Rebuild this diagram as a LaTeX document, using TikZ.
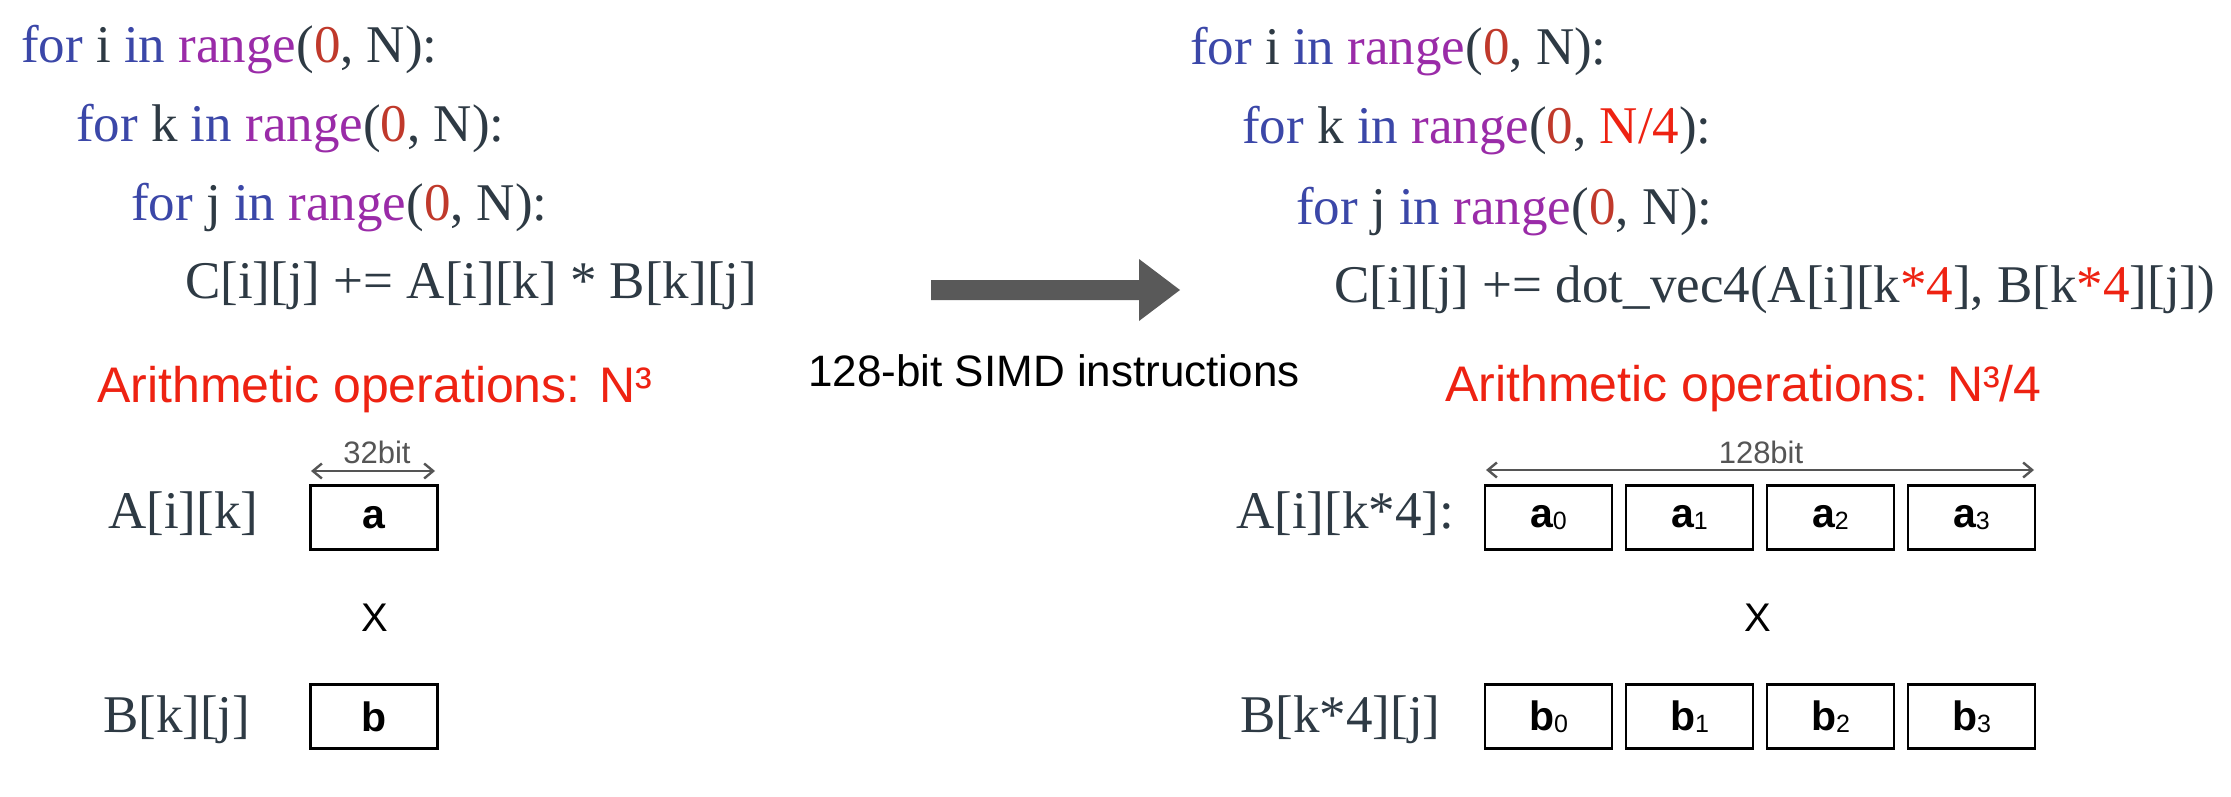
\documentclass[tikz,border=0pt]{standalone}
\usepackage{fontspec}
\usetikzlibrary{arrows.meta}
\setmainfont{Liberation Serif}
\newfontfamily\codefont{Liberation Serif}
\newfontfamily\sansf{Liberation Sans}
\definecolor{kwblue}{HTML}{3B47A8}
\definecolor{rgpurple}{HTML}{9A2BA8}
\definecolor{zred}{HTML}{C0392B}
\definecolor{txt}{HTML}{2E3A44}
\definecolor{hired}{HTML}{EE2212}
\definecolor{arrgray}{HTML}{595959}
\definecolor{dimgray}{HTML}{555555}
\newcommand\kw[1]{\textcolor{kwblue}{#1}}
\newcommand\rg[1]{\textcolor{rgpurple}{#1}}
\newcommand\zr[1]{\textcolor{zred}{#1}}
\newcommand\hr[1]{\textcolor{hired}{#1}}
\newcommand\subd[1]{\raisebox{-2pt}{\fontsize{25}{25}\selectfont\mdseries #1}}
\begin{document}
\begin{tikzpicture}[x=1pt,y=-1pt,
  code/.style={anchor=base west, inner sep=0, text=txt, font=\codefont\fontsize{53}{53}\selectfont},
  arith/.style={anchor=base west, inner sep=0, text=hired, font=\sansf\fontsize{50}{50}\selectfont},
  cell/.style={draw=black, line width=2.8pt, minimum width=127pt, minimum height=64pt, inner sep=0, font=\sansf\bfseries\fontsize{41}{41}\selectfont},
  bitlbl/.style={anchor=base, inner sep=0, text=dimgray, font=\sansf\fontsize{31}{31}\selectfont},
  dimarrow/.style={draw=dimgray, line width=2.4pt, arrows={Straight Barb[length=9pt,width=15pt]-Straight Barb[length=9pt,width=15pt]}},
  timesx/.style={inner sep=0, font=\sansf\fontsize{40}{40}\selectfont},
  bigarrow/.style={fill=arrgray}
]
\useasboundingbox (0,0) rectangle (2231,797);
\fill[white] (0,0) rectangle (2231,797);

% left code
\node[code] (L1) at (21,63) {\kw{for} i \kw{in} \rg{range}(\zr{0}, N):};
\node[code] (L2) at (76,142) {\kw{for} k \kw{in} \rg{range}(\zr{0}, N):};
\node[code] (L3) at (131,220) {\kw{for} j \kw{in} \rg{range}(\zr{0}, N):};
\node[code] (L4) at (185,298) {C[i][j] += A[i][k] * B[k][j]};

% right code
\node[code] (R1) at (1190,65) {\kw{for} i \kw{in} \rg{range}(\zr{0}, N):};
\node[code] (R2) at (1242,144) {\kw{for} k \kw{in} \rg{range}(\zr{0}, \hr{N/4}):};
\node[code] (R3) at (1296,224) {\kw{for} j \kw{in} \rg{range}(\zr{0}, N):};
\node[code] (R4) at (1334,302) {C[i][j] += dot\_vec4(A[i][k\hr{*4}], B[k\hr{*4}][j])};

% arithmetic
\node[arith] (AL) at (97,402) {Arithmetic operations: N³};
\node[arith] (AR) at (1445,401) {Arithmetic operations: N³/4};

% big arrow and label
\fill[bigarrow] (931,280) -- (1139,280) -- (1139,259) -- (1180,290) -- (1139,321) -- (1139,300) -- (931,300) -- cycle;
\node[anchor=base, inner sep=0, font=\sansf\fontsize{44}{44}\selectfont] (SIMD) at (1054,386) {128-bit SIMD instructions};

% left boxes
\node[code] (lA) at (108,528) {A[i][k]};
\node[code] (lB) at (103,732) {B[k][j]};
\node[cell] (ca) at (374,517.5) {a};
\node[cell] (cb) at (374,716.5) {b};
\node[timesx] (lX) at (375,618) {X};
\coordinate (l32a) at (311,471);
\coordinate (l32b) at (435,471);
\draw[dimarrow] (l32a) -- (l32b);
\node[bitlbl] (l32) at (377,463) {32bit};

% right boxes
\node[code] (rA) at (1236,528) {A[i][k*4]:};
\node[code] (rB) at (1240,732) {B[k*4][j]};
\foreach \i/\xx in {0/1548.5,1/1689.5,2/1830.5,3/1971.5}{
  \node[cell] (ra\i) at (\xx,517.5) {a\subd{\i}};
  \node[cell] (rb\i) at (\xx,716.5) {b\subd{\i}};
}
\node[timesx] (rX) at (1758,618) {X};
\coordinate (r128a) at (1486,470);
\coordinate (r128b) at (2034,470);
\draw[dimarrow] (r128a) -- (r128b);
\node[bitlbl] (r128) at (1761,463) {128bit};
\end{tikzpicture}
\end{document}
